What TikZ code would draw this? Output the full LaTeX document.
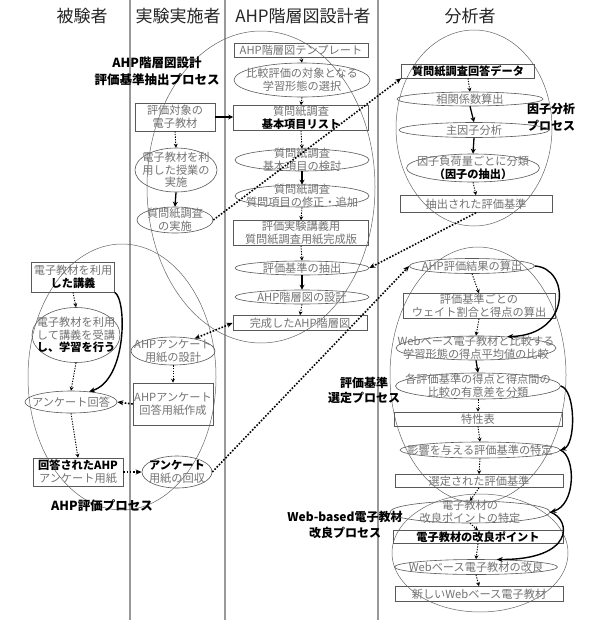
\documentclass[tikz,border=0pt]{standalone}
\usepackage{fontspec}
\setmainfont{Noto Sans CJK JP}
\usetikzlibrary{shapes.geometric,arrows.meta}
\newcommand{\nodefnt}{\fontsize{11.2}{12.6}\selectfont}
\newcommand{\bkb}[1]{{\color{black}\bfseries #1}}
\begin{document}
\begin{tikzpicture}[x=1pt,y=-1pt,
  lane/.style={line width=1.4pt,draw=black!40},
  hdr/.style={font=\fontsize{17}{19}\selectfont,text=black!85,inner sep=0pt},
  box/.style={draw=black!65,line width=0.6pt,rectangle,inner sep=0pt,align=center,text=black!55,font=\nodefnt},
  ell/.style={draw=black!65,line width=0.6pt,ellipse,inner sep=0pt},
  txt/.style={inner sep=0pt,align=center,text=black!55,font=\nodefnt},
  region/.style={draw=black!60,line width=0.5pt,ellipse,inner sep=0pt},
  rlab/.style={font=\fontsize{12.5}{17}\selectfont\bfseries,align=center,inner sep=0pt},
  darr/.style={line width=0.9pt,dash pattern=on 1.3pt off 1.3pt,-{Stealth[length=4pt,width=4pt]}},
  sarr/.style={line width=1.3pt,-{Stealth[length=5pt,width=5pt]}},
  xarr/.style={line width=1.6pt,dash pattern=on 1.6pt off 1.6pt,-{Stealth[length=6pt,width=5pt]}},
  carr/.style={line width=1.4pt,-{Stealth[length=6pt,width=5pt]}},
]
\fill[white] (0,0) rectangle (593,637);
\useasboundingbox (0,0) rectangle (593,637);

% lanes
\coordinate (l1t) at (130,0); \coordinate (l1b) at (130,620);
\coordinate (l2t) at (225,0); \coordinate (l2b) at (225,620);
\coordinate (l3t) at (378,0); \coordinate (l3b) at (378,620);
\draw[lane] (l1t) -- (l1b);
\draw[lane] (l2t) -- (l2b);
\draw[lane] (l3t) -- (l3b);

% headers
\node[hdr] (hd1) at (82,16) {被験者};
\node[hdr] (hd2) at (178,16) {実験実施者};
\node[hdr] (hd3) at (303,16) {AHP階層図設計者};
\node[hdr] (hd4) at (470,16) {分析者};

% process regions
\node[region, minimum width=228, minimum height=312] (R1) at (261,187) {};
\node[region, minimum width=156, minimum height=196] (R2) at (474,128) {};
\node[region, minimum width=176, minimum height=256] (R3) at (478,375) {};
\node[region, minimum width=176, minimum height=118] (R4) at (480,553) {};
\node[region, minimum width=188, minimum height=266] (R5) at (122,377) {};

\node[rlab] (L1) at (157,71) {AHP階層図設計\\評価基準抽出プロセス};
\node[rlab,font=\fontsize{12}{17}\selectfont\bfseries] (L2) at (551,117) {因子分析\\プロセス};
\node[rlab,font=\fontsize{12}{15}\selectfont\bfseries] (L3) at (364,390) {評価基準\\選定プロセス};
\node[rlab,font=\fontsize{12}{16}\selectfont\bfseries] (L4) at (345,525) {Web-based電子教材\\改良プロセス};
\node[rlab,font=\fontsize{12.5}{15}\selectfont\bfseries] (L5) at (102,506) {AHP評価プロセス};

% AHP designer column
\node[box, minimum width=134, minimum height=14] (h1) at (301,50) {AHP階層図テンプレート};
\node[ell, minimum width=136, minimum height=34] (h2) at (302,80) {};
\node[txt] at (h2) {比較評価の対象となる\\学習形態の選択};
\node[box, minimum width=135, minimum height=25] (h3) at (301,118) {質問紙調査\\\bkb{基本項目リスト}};
\node[ell, minimum width=134, minimum height=22] (h4) at (302,160) {};
\node[txt] at (h4) {質問紙調査\\基本項目の検討};
\node[ell, minimum width=134, minimum height=22] (h5) at (302,196) {};
\node[txt] at (h5) {質問紙調査\\質問項目の修正・追加};
\node[box, minimum width=135, minimum height=25] (h6) at (301,233) {評価実験講義用\\質問紙調査用紙完成版};
\node[ell, minimum width=134, minimum height=14] (h7) at (302,268) {};
\node[txt] at (h7) {評価基準の抽出};
\node[ell, minimum width=134, minimum height=14] (h8) at (302,297) {};
\node[txt] at (h8) {AHP階層図の設計};
\node[box, minimum width=134, minimum height=15] (h9) at (300,323) {完成したAHP階層図};

% experimenter column
\node[box, minimum width=80, minimum height=28] (ea) at (175,117) {評価対象の\\電子教材};
\node[ell, minimum width=82, minimum height=44] (eb) at (176,170) {};
\node[txt] at (eb) {電子教材を利\\用した授業の\\実施};
\node[ell, minimum width=76, minimum height=26] (ec) at (175,220) {};
\node[txt] at (ec) {質問紙調査\\の実施};
\node[ell, minimum width=84, minimum height=28] (ed) at (173,351) {};
\node[txt] at (ed) {AHPアンケート\\用紙の設計};
\node[box, minimum width=80, minimum height=42] (ee) at (173,404) {AHPアンケート\\回答用紙作成};
\node[ell, minimum width=70, minimum height=32] (ef) at (177,472) {};
\node[txt] at (ef) {\bkb{アンケート}\\用紙の回収};

% subject column
\node[box, minimum width=83, minimum height=30] (sg) at (73,277) {電子教材を利用\\\bkb{した講義}};
\node[ell, minimum width=88, minimum height=55] (sh) at (76,335) {};
\node[txt] at (sh) {電子教材を利用\\して講義を受講\\\bkb{し、学習を行う}};
\node[ell, minimum width=92, minimum height=22] (si) at (71,402) {};
\node[txt] at (si) {アンケート回答};
\node[box, minimum width=90, minimum height=28] (sj) at (78,472) {\bkb{回答されたAHP}\\アンケート用紙};

% analyst column
\node[box, minimum width=133, minimum height=14] (k1) at (468,71) {\bkb{質問紙調査回答データ}};
\node[ell, minimum width=146, minimum height=14] (k2) at (470,99) {};
\node[txt] at (k2) {相関係数算出};
\node[ell, minimum width=150, minimum height=15] (k3) at (474,130) {};
\node[txt] at (k3) {主因子分析};
\node[ell, minimum width=133, minimum height=28] (k4) at (473,168) {};
\node[txt] at (k4) {因子負荷量ごとに分類\\\bkb{（因子の抽出）}};
\node[box, minimum width=152, minimum height=17] (k5) at (476,204) {抽出された評価基準};

\node[ell, minimum width=125, minimum height=15] (p1) at (472,266) {};
\node[txt] at (p1) {AHP評価結果の算出};
\node[box, minimum width=152, minimum height=25] (p2) at (479,306) {評価基準ごとの\\ウェイト割合と得点の算出};
\node[ell, minimum width=160, minimum height=24] (p3) at (476,348) {};
\node[txt] at (p3) {Webベース電子教材と比較する\\学習形態の得点平均値の比較};
\node[ell, minimum width=165, minimum height=26] (p4) at (478,386) {};
\node[txt] at (p4) {各評価基準の得点と得点間の\\比較の有意差を分類};
\node[box, minimum width=168, minimum height=14] (p5) at (478,419) {特性表};
\node[ell, minimum width=160, minimum height=16] (p6) at (480,450) {};
\node[txt] at (p6) {影響を与える評価基準の特定};
\node[box, minimum width=168, minimum height=13] (p7) at (479,481) {選定された評価基準};

\node[ell, minimum width=160, minimum height=22] (w1) at (470,512) {};
\node[txt] at (w1) {電子教材の\\改良ポイントの特定};
\node[box, minimum width=170, minimum height=13] (w2) at (478,537) {\bkb{電子教材の改良ポイント}};
\node[ell, minimum width=163, minimum height=15] (w3) at (476,567) {};
\node[txt] at (w3) {Webベース電子教材の改良};
\node[box, minimum width=168, minimum height=15] (w4) at (479,594) {新しいWebベース電子教材};

% arrows: AHP column
\draw[darr] (h1.south) -- (h2.north);
\draw[darr] (h2.south) -- (h3.north);
\draw[darr] (h3.south) -- (h4.north);
\draw[sarr] (h4.south) -- (h5.north);
\draw[darr] (h5.south) -- (h6.north);
\draw[darr] (h6.south) -- (h7.north);
\draw[sarr] (h7.south) -- (h8.north);
\draw[darr] (h8.south) -- (h9.north);

% experimenter column
\draw[darr] (ea.south) -- (eb.north);
\draw[sarr] (eb.south) -- (ec.north);
\draw[darr] (ed.south) -- (ee.north);
\draw[sarr] (ea.east) -- (ea.east -| h3.west);

% subject column
\draw[darr] (sg.south) -- (sh.north);
\draw[darr] (sh.south) -- (si.north);
\draw[darr] (si.south) -- (sj.north);
\draw[carr] (sg.south east) .. controls (127,300) and (127,380) .. (si.30);

% analyst
\draw[darr] (k1.south) -- (k2.north);
\draw[sarr] (k2.south) -- (k3.north);
\draw[sarr] (k3.south) -- (k4.north);
\draw[darr] (k4.south) -- (k5.north);
\draw[darr] (p1.south) -- (p2.north);
\draw[darr] (p2.south) -- (p3.north);
\draw[sarr] (p3.south) -- (p4.north);
\draw[darr] (p4.south) -- (p5.north);
\draw[darr] (p5.south) -- (p6.north);
\draw[darr] (p6.south) -- (p7.north);
\draw[darr] (p7.south) -- (w1.north);
\draw[darr] (w1.south) -- (w2.north);
\draw[darr] (w2.south) -- (w3.north);
\draw[darr] (w3.south) -- (w4.north);

\draw[carr] (p1.east) .. controls (570,268) and (572,335) .. (p3.20);
\draw[carr] (p4.east) .. controls (576,390) and (576,445) .. (p6.east);
\draw[carr] (p6.east) .. controls (576,456) and (576,505) .. (w1.east);
\draw[carr] (w1.east) .. controls (572,520) and (574,560) .. (w3.20);

% cross-lane dotted connectors
\draw[xarr] (ec.east) -- (k1.south west);
\draw[xarr] (k5.south) -- (h7.east);
\draw[xarr,{Stealth[length=6pt,width=5pt]}-{Stealth[length=6pt,width=5pt]}] (ed.30) -- (h9.west);
\draw[xarr] (ee.west) -- (si.east);
\draw[xarr] (sj.east) -- (ef.west);
\draw[xarr] (ef.east) -- (p1.west);
\end{tikzpicture}
\end{document}
